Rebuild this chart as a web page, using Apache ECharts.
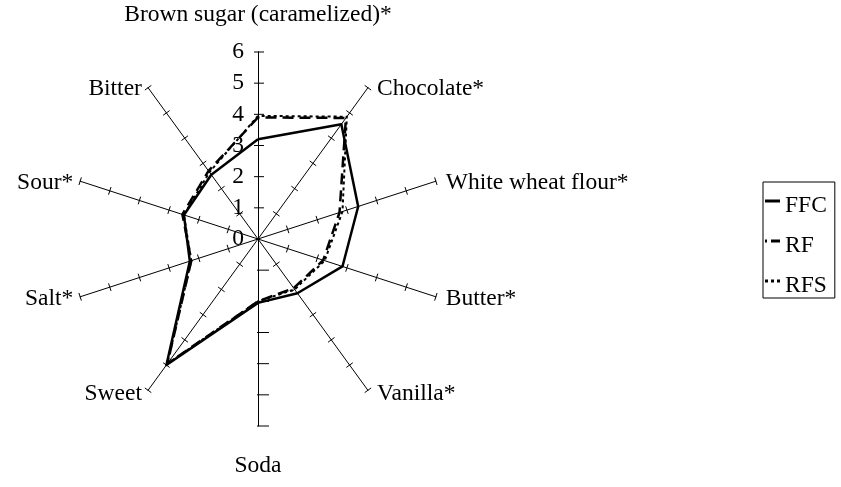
<!DOCTYPE html>
<html>
<head>
<meta charset="utf-8">
<script src="https://cdn.jsdelivr.net/npm/echarts@6/dist/echarts.min.js"></script>
<style>
  html, body { margin: 0; padding: 0; background: #fff; }
  #chart { width: 841px; height: 487px; }
</style>
</head>
<body>
<div id="chart"></div>
<script>
// Sensory attributes, listed clockwise starting from the top spoke
const attributes = [
  'Brown sugar (caramelized)*', 'Chocolate*', 'White wheat flour*', 'Butter*',
  'Vanilla*', 'Soda', 'Sweet', 'Salt*', 'Sour*', 'Bitter'
];
// Mean intensity scores per sample (same order as attributes)
const ffc = [3.2, 4.55, 3.38, 2.85, 2.15, 2.05, 5.0, 2.3, 2.5, 2.55];
const rf  = [3.9, 4.8, 2.75, 2.2, 1.95, 2.0, 4.95, 2.25, 2.55, 2.7];
const rfs = [3.95, 4.85, 2.85, 2.25, 2.0, 2.0, 4.95, 2.25, 2.5, 2.65];
const sampleNames = ['FFC', 'RF', 'RFS'];
const scaleMax = 6;
const scaleTicks = ['0', '1', '2', '3', '4', '5', '6'];

const FONT = '"Liberation Serif", "Times New Roman", serif';
const FS = 23.5;
const CX = 258, CY = 239, R = 187;

// ECharts lays radar spokes out counter-clockwise, so keep the first
// attribute on top and reverse the rest to read clockwise.
const order = [0].concat(attributes.map((_, i) => i).slice(1).reverse());
const pick = arr => order.map(i => arr[i]);
const indicators = order.map(i => ({ name: attributes[i], min: 0, max: scaleMax }));

// Spoke name styles: top / bottom get extra clearance, sides a small offset
const nameStyle = {};
attributes.forEach((n, i) => {
  nameStyle[n] = i === 0 ? 'top' : i === 5 ? 'bot'
    : (i <= 2 ? 'rgtHi' : i <= 4 ? 'rgtLo' : i <= 7 ? 'lftLo' : 'lftHi');
});
const txt = { fontFamily: FONT, fontSize: FS, color: '#000' };

// Tick marks on every spoke: one per unit of the scale
const spokeStep = 360 / attributes.length;
const tickData = [];
attributes.forEach((_, s) => {
  for (let t = 1; t < scaleTicks.length; t++) tickData.push([t, s * spokeStep, s]);
});
// How far each tick reaches to either side of its spoke (px)
const tickSpan = s => s === 0 ? [4, 6] : s === 5 ? [11, 1] : [4, 4];

// Legend keys: line glyph sits a little above the text middle
const keyBox = 'M0,0L0.01,0Z M0,24L0.01,24Z ';
const legendIcons = {
  FFC: 'path://' + keyBox + 'M0,5.5H15V8.5H0Z',
  RF:  'path://' + keyBox + 'M0,5.5H2V8.5H0Z M6,5.5H15V8.5H6Z',
  RFS: 'path://' + keyBox + 'M0,5.5H3V8.5H0Z M6,5.5H9V8.5H6Z M12,5.5H15V8.5H12Z'
};

const chart = echarts.init(document.getElementById('chart'), null, { renderer: 'canvas' });

chart.setOption({
  animation: false,
  backgroundColor: '#fff',
  polar: { center: [CX, CY], radius: R },
  angleAxis: { show: false, startAngle: 90, clockwise: true, min: 0, max: 360 },
  radiusAxis: {
    type: 'value',
    min: 0,
    max: scaleMax,
    interval: 1,
    axisLine: { show: true, lineStyle: { color: '#000', width: 1 } },
    axisTick: { show: false },
    axisLabel: {
      show: true, margin: 14, color: '#000', fontFamily: FONT, fontSize: FS,
      formatter: v => scaleTicks[v]
    },
    splitLine: { show: false }
  },
  radar: {
    center: [CX, CY],
    radius: R,
    startAngle: 90,
    splitNumber: scaleMax,
    shape: 'polygon',
    indicator: indicators,
    nameGap: 2,
    splitLine: { show: false },
    splitArea: { show: false },
    axisLine: { show: true, lineStyle: { color: '#000', width: 1 } },
    axisTick: { show: false },
    axisLabel: { show: false },
    axisName: Object.assign({}, txt, {
      formatter: name => '{' + nameStyle[name] + '|' + name + '}',
      rich: {
        top: Object.assign({ padding: [0, 0, 23, 0] }, txt),
        bot: Object.assign({ padding: [26, 0, 0, 0] }, txt),
        rgtHi: Object.assign({ padding: [5, 0, 0, 8] }, txt),
        rgtLo: Object.assign({ padding: [3, 0, 0, 8] }, txt),
        lftHi: Object.assign({ padding: [5, 5, 0, 0] }, txt),
        lftLo: Object.assign({ padding: [3, 5, 0, 0] }, txt)
      }
    })
  },
  legend: {
    orient: 'vertical',
    left: 763,
    top: 182,
    padding: [12, 8, 0, 2],
    itemGap: 16,
    itemWidth: 15,
    itemHeight: 24,
    borderColor: '#000',
    borderWidth: 1,
    textStyle: txt,
    data: sampleNames.map(n => ({ name: n, icon: legendIcons[n] }))
  },
  series: [
    {
      type: 'custom',
      coordinateSystem: 'polar',
      polarIndex: 0,
      silent: true,
      data: tickData,
      renderItem: (params, api) => {
        const p = api.coord([api.value(0), api.value(1)]);
        const th = (90 - api.value(1)) * Math.PI / 180;
        const px = Math.sin(th), py = Math.cos(th);
        const span = tickSpan(api.value(2));
        return {
          type: 'line',
          shape: {
            x1: p[0] - span[0] * px, y1: p[1] - span[0] * py,
            x2: p[0] + span[1] * px, y2: p[1] + span[1] * py
          },
          style: { stroke: '#000', lineWidth: 1 }
        };
      }
    },
    {
      type: 'radar',
      radarIndex: 0,
      symbol: 'none',
      z: 5,
      data: [
        { name: sampleNames[0], value: pick(ffc),
          lineStyle: { color: '#000', width: 2.5, type: 'solid' },
          itemStyle: { color: '#000' } },
        { name: sampleNames[1], value: pick(rf),
          lineStyle: { color: '#000', width: 2.5, type: [11, 6] },
          itemStyle: { color: '#000' } },
        { name: sampleNames[2], value: pick(rfs),
          lineStyle: { color: '#000', width: 2, type: [3, 3] },
          itemStyle: { color: '#000' } }
      ]
    }
  ]
});
</script>
</body>
</html>
